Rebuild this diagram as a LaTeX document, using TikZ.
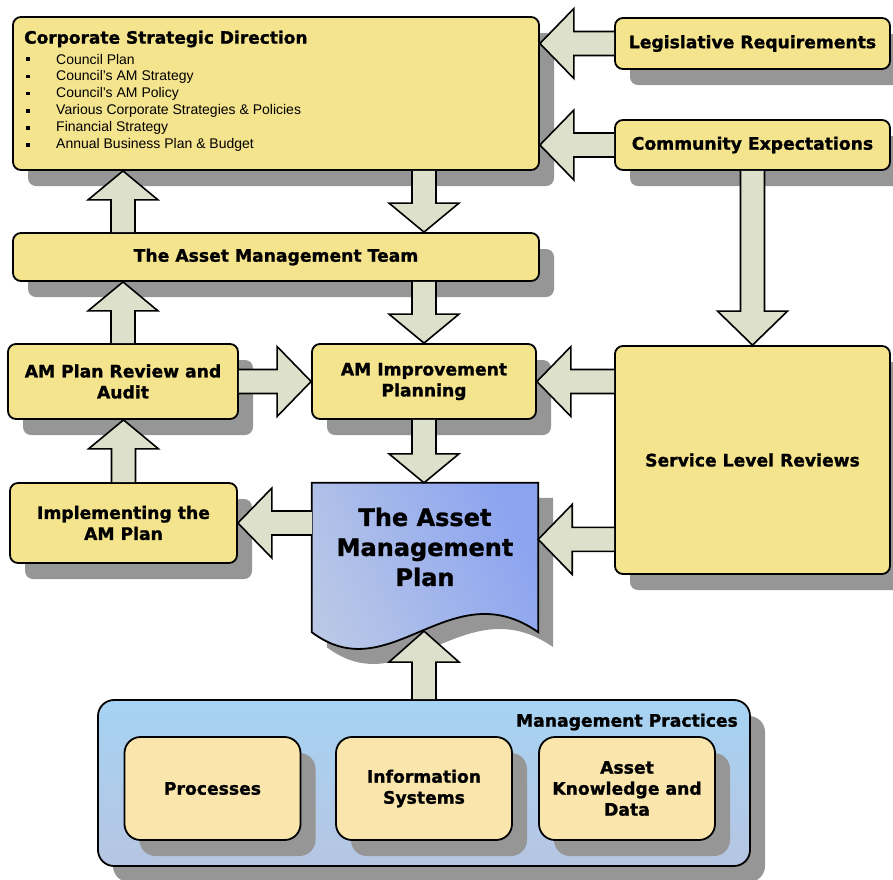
\documentclass[tikz,border=0pt]{standalone}
\usepackage{fontspec}
\setmainfont{Liberation Sans}
\newfontfamily\hvy{DejaVu Sans}[BoldFeatures={FakeBold=1.2}]
\usetikzlibrary{calc,shadows}
\definecolor{boxy}{RGB}{245,228,142}
\definecolor{boxl}{RGB}{250,230,172}
\definecolor{arrc}{RGB}{221,225,203}
\definecolor{shc}{RGB}{150,150,150}
\definecolor{mpt}{RGB}{166,211,243}
\definecolor{mpb}{RGB}{182,197,226}
\definecolor{pll}{RGB}{186,200,230}
\definecolor{plr}{RGB}{140,164,240}
\newcommand\fA{\hvy\bfseries\fontsize{17.2}{21}\selectfont}
\tikzset{
 shad/.style={drop shadow={shadow xshift=15pt, shadow yshift=-16pt, fill=shc, opacity=1}},
 ybox/.style={draw, line width=1.8pt, rounded corners=8pt, fill=boxy, inner sep=0pt, align=center, font=\fA, shad},
 lbox/.style={ybox, fill=boxl, rounded corners=16pt, minimum width=176pt, minimum height=103pt},
 arr/.style={draw, line width=1.6pt, fill=arrc, line join=miter},
 bul/.style={anchor=west, inner sep=0pt, font=\fontsize{14}{16}\selectfont},
 sq/.style={fill=black, inner sep=0pt, minimum size=3.5pt},
}
% block arrows: [head length]{tail}{tip}
\newcommand\arD[3][29]{\draw[arr] let \p1=(#2), \p2=(#3) in (\x1-12pt,\y1) -- (\x1-12pt,\y2+#1pt) -- (\x1-35pt,\y2+#1pt) -- (\x1,\y2) -- (\x1+35pt,\y2+#1pt) -- (\x1+12pt,\y2+#1pt) -- (\x1+12pt,\y1);}
\newcommand\arU[3][29]{\draw[arr] let \p1=(#2), \p2=(#3) in (\x1-12pt,\y1) -- (\x1-12pt,\y2-#1pt) -- (\x1-35pt,\y2-#1pt) -- (\x1,\y2) -- (\x1+35pt,\y2-#1pt) -- (\x1+12pt,\y2-#1pt) -- (\x1+12pt,\y1);}
\newcommand\arL[3][34]{\draw[arr] let \p1=(#2), \p2=(#3) in (\x1,\y1+12pt) -- (\x2+#1pt,\y1+12pt) -- (\x2+#1pt,\y1+35pt) -- (\x2,\y1) -- (\x2+#1pt,\y1-35pt) -- (\x2+#1pt,\y1-12pt) -- (\x1,\y1-12pt);}
\newcommand\arR[3][34]{\draw[arr] let \p1=(#2), \p2=(#3) in (\x1,\y1+12pt) -- (\x2-#1pt,\y1+12pt) -- (\x2-#1pt,\y1+35pt) -- (\x2,\y1) -- (\x2-#1pt,\y1-35pt) -- (\x2-#1pt,\y1-12pt) -- (\x1,\y1-12pt);}
\begin{document}
\begin{tikzpicture}[x=1pt,y=-1pt]
\useasboundingbox[fill=white] (0,0) rectangle (893,879);
% management practices
\node[ybox, rounded corners=16pt, top color=mpt, bottom color=mpb, minimum width=652pt, minimum height=166pt] (mp) at (424,783) {};
\node[anchor=east, inner sep=0pt, font=\fA] (mpl) at (738,722) {Management Practices};
\node[lbox] (proc) at (212.5,788.5) {Processes};
\node[lbox] (info) at (424,788.5) {Information\\Systems};
\node[lbox] (akd) at (627,788.5) {Asset\\Knowledge and\\Data};
% main boxes
\node[ybox, minimum width=526pt, minimum height=153pt] (corp) at (276,93.5) {};
\node[anchor=west, inner sep=0pt, font=\hvy\bfseries\fontsize{17}{20}\selectfont] (corpt) at (24,39) {Corporate Strategic Direction};
\foreach \t [count=\i] in {Council Plan, Council’s AM Strategy, Council’s AM Policy, Various Corporate Strategies \& Policies, Financial Strategy, Annual Business Plan \& Budget}{
  \node[bul] (b\i) at (56,{42+17.2*\i}) {\t};
  \node[sq] (s\i) at (28,{42+17.2*\i}) {};
}
\node[ybox, minimum width=275pt, minimum height=51pt] (legis) at (752.5,43.5) {Legislative Requirements};
\node[ybox, minimum width=275pt, minimum height=50pt] (comm) at (752.5,145) {Community Expectations};
\node[ybox, minimum width=526pt, minimum height=48pt] (team) at (276,257) {The Asset Management Team};
\node[ybox, minimum width=230pt, minimum height=75pt] (review) at (123,381.5) {AM Plan Review and\\Audit};
\node[ybox, minimum width=224pt, minimum height=75pt] (impr) at (424,381.5) {AM Improvement\\Planning};
\node[ybox, minimum width=275pt, minimum height=228pt] (serv) at (752.5,460) {Service Level Reviews};
\node[ybox, minimum width=227pt, minimum height=80pt] (impl) at (123.5,523) {Implementing the\\AM Plan};
% the plan document
\node[inner sep=0pt, minimum width=226pt, minimum height=149pt] (plan) at (425,557.5) {};
\path[draw, line width=1.8pt, left color=pll, right color=plr, shading angle=115,
  drop shadow={shadow xshift=15pt, shadow yshift=-15pt, fill=shc, opacity=1}]
  (plan.north west) -- (plan.north east) -- (plan.south east)
  .. controls ($(plan.south east)+(-88,-62)$) and ($(plan.south west)+(78,59)$) .. (plan.south west)
  coordinate[pos=0.5] (wavemid) -- cycle;
\node[inner sep=0pt, align=center, font=\hvy\bfseries\fontsize{24}{30}\selectfont] (plant) at (425,547) {The Asset\\Management\\Plan};
% arrows
\arL{legis.west}{legis.west -| corp.east}
\arL{comm.west}{comm.west -| corp.east}
\arD[34]{comm.south}{serv.north}
\arD{impr.north |- corp.south}{impr.north |- team.north}
\arU{review.north |- team.north}{review.north |- corp.south}
\arD{impr.north |- team.south}{impr.north}
\arU{review.north}{review.north |- team.south}
\arR{review.east}{review.east -| impr.west}
\arL{impr.east -| serv.west}{impr.east}
\arU{impl.north}{impl.north |- review.south}
\arD{impr.south}{impr.south |- plan.north}
\arL{impl.east -| plan.west}{impl.east}
\coordinate (sin) at ($(serv.south west)+(0,-35.5)$);
\arL{sin}{sin -| plan.east}
\arU[31]{mp.north}{mp.north |- wavemid}
\end{tikzpicture}
\end{document}
